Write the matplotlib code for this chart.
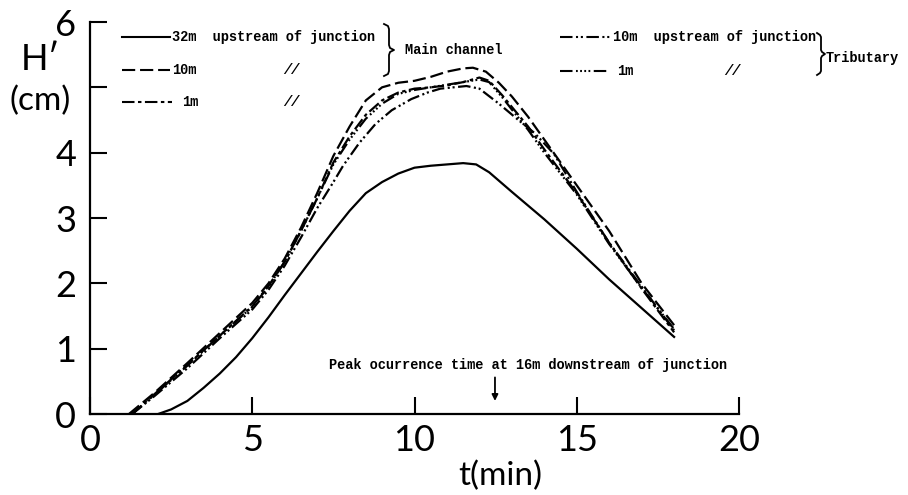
import matplotlib
matplotlib.use("Agg")
import matplotlib.pyplot as plt
from matplotlib.lines import Line2D

plt.rcParams['lines.scale_dashes'] = False

# ---- data ----
t_main32 = [2.1, 2.5, 3.0, 3.5, 4.0, 4.5, 5.0, 5.5, 6.0, 6.5, 7.0, 7.5, 8.0, 8.5, 9.0, 9.5,
            10.0, 10.5, 11.0, 11.5, 11.9, 12.3, 13.0, 14.0, 15.0, 16.0, 17.0, 18.0]
H_main32 = [0.0, 0.07, 0.2, 0.4, 0.62, 0.87, 1.16, 1.48, 1.82, 2.15, 2.48, 2.8, 3.11, 3.38, 3.55, 3.68,
            3.77, 3.80, 3.82, 3.84, 3.82, 3.70, 3.40, 2.98, 2.53, 2.06, 1.62, 1.18]

t_main10 = [1.2, 2.0, 3.0, 4.0, 5.0, 5.5, 6.0, 6.5, 7.0, 7.5, 8.0, 8.5, 9.0, 9.5, 10.0, 10.5,
            11.0, 11.5, 11.8, 12.2, 12.6, 13.0, 13.5, 14.0, 15.0, 16.0, 17.0, 18.0]
H_main10 = [0.0, 0.33, 0.78, 1.24, 1.70, 2.0, 2.38, 2.85, 3.38, 3.95, 4.4, 4.8, 5.0, 5.07, 5.10, 5.16,
            5.24, 5.29, 5.30, 5.24, 5.07, 4.86, 4.55, 4.2, 3.5, 2.8, 2.0, 1.36]

t_main1 = [1.3, 2.0, 3.0, 4.0, 5.0, 5.5, 6.0, 6.5, 7.0, 7.5, 8.0, 8.5, 9.0, 9.5, 10.0, 10.5,
           11.0, 11.5, 12.0, 12.3, 12.7, 13.0, 13.5, 14.0, 15.0, 16.0, 17.0, 18.0]
H_main1 = [0.0, 0.31, 0.75, 1.2, 1.65, 1.96, 2.33, 2.8, 3.3, 3.85, 4.25, 4.58, 4.8, 4.92, 4.98, 5.0,
           5.03, 5.08, 5.15, 5.1, 4.88, 4.7, 4.4, 4.05, 3.38, 2.62, 1.92, 1.25]

t_trib10 = [1.3, 2.0, 3.0, 4.0, 5.0, 5.5, 6.0, 6.5, 7.0, 7.5, 7.8, 8.3, 8.8, 9.3, 9.9, 10.4,
            10.8, 11.6, 12.0, 12.6, 13.2, 13.7, 14.3, 15.0, 16.0, 17.0, 18.0]
H_trib10 = [0.0, 0.28, 0.7, 1.16, 1.6, 1.9, 2.27, 2.7, 3.15, 3.55, 3.8, 4.15, 4.44, 4.65, 4.82, 4.92,
            4.98, 5.02, 4.98, 4.75, 4.5, 4.3, 3.98, 3.4, 2.62, 1.95, 1.28]

t_trib1 = [1.3, 2.0, 3.0, 4.0, 5.0, 5.5, 6.0, 6.5, 7.0, 7.5, 8.0, 8.5, 9.0, 9.5, 10.0, 10.5,
           11.0, 11.5, 12.0, 12.3, 12.7, 13.0, 13.5, 14.0, 15.0, 16.0, 17.0, 18.0]
H_trib1 = [0.0, 0.3, 0.74, 1.2, 1.64, 1.95, 2.33, 2.8, 3.3, 3.82, 4.2, 4.52, 4.75, 4.9, 4.96, 5.0,
           5.04, 5.08, 5.12, 5.08, 4.85, 4.66, 4.35, 4.0, 3.36, 2.6, 1.93, 1.3]

x_ticks = [0, 5, 10, 15, 20]
x_ticklabels = ['0', '5', '10', '15', '20']
y_ticks = [0, 1, 2, 3, 4, 5, 6]
y_ticklabels = ['0', '1', '2', '3', '4', '', '6']
peak_time = 12.48

# ---- styles ----
LW = 1.6
ls_main32 = '-'
ls_main10 = (0, (9.5, 3.5))
ls_main1 = (0, (9, 2.5, 2.5, 2.5))
ls_trib10 = (0, (9, 2.5, 1.5, 2.0, 1.5, 2.5))
ls_trib1 = (0, (9, 2.5, 1.3, 1.7, 1.3, 1.7, 1.3, 1.7, 1.3, 2.5))

W, H = 908, 495
fig = plt.figure(figsize=(W / 100, H / 100), dpi=100)
ax = fig.add_axes([90 / W, 1 - 414 / H, (739 - 90) / W, (414 - 22) / H])

ax.plot(t_main32, H_main32, color='black', lw=LW, linestyle=ls_main32)
ax.plot(t_main10, H_main10, color='black', lw=LW, linestyle=ls_main10)
ax.plot(t_main1, H_main1, color='black', lw=LW, linestyle=ls_main1)
ax.plot(t_trib10, H_trib10, color='black', lw=LW, linestyle=ls_trib10)
ax.plot(t_trib1, H_trib1, color='black', lw=LW, linestyle=ls_trib1)

ax.set_xlim(0, 20)
ax.set_ylim(0, 6)
for s in ['top', 'right']:
    ax.spines[s].set_visible(False)
for s in ['left', 'bottom']:
    ax.spines[s].set_linewidth(1.6)

tickfont = dict(family='Lato', weight='normal', size=26, color='black')
ax.set_xticks(x_ticks)
ax.set_xticklabels(x_ticklabels, fontdict=tickfont)
ax.set_yticks(y_ticks)
ax.set_yticklabels(y_ticklabels, fontdict=tickfont)
ax.tick_params(direction='in', length=12, width=1.5, pad=7)
ax.tick_params(axis='y', pad=10)

# axis labels
lab = dict(family='Lato', weight='normal', color='black')
fig.text(40 / W, 1 - 59 / H, "H\u2032", ha='center', va='center', size=26, **lab)
fig.text(40 / W, 1 - 101 / H, "(cm)", ha='center', va='center', size=24, **lab)
fig.text(500 / W, 1 - 476 / H, "t(min)", ha='center', va='center', size=24, **lab)

# annotation
mono = dict(family='Liberation Mono', weight='bold', size=9.8)
ax.text(13.5, 0.75, "Peak ocurrence time at 16m downstream of junction", ha='center', va='center', **mono)
ax.annotate('', xy=(peak_time, 0.2), xytext=(peak_time, 0.56),
            arrowprops=dict(arrowstyle='-|>', color='black', lw=1.3, mutation_scale=9,
                            shrinkA=0, shrinkB=0))

# ---- legend (drawn manually) ----
def px(x, y):
    return x / W, 1 - y / H

def sample(x0, x1, y, ls):
    (a, b), (c, _) = px(x0, y), px(x1, y)
    fig.add_artist(Line2D([a, c], [b, b], transform=fig.transFigure, color='black', lw=1.5, linestyle=ls))

def brace(x, y0, y1, w=5):
    ym = (y0 + y1) / 2
    xs = [x - w, x - 1, x, x, x + 1, x + w, x + 1, x, x, x - 1, x - w]
    ys = [y0, y0 + 2, y0 + w, ym - w, ym - 2, ym, ym + 2, ym + w, y1 - w, y1 - 2, y1]
    fx = [xx / W for xx in xs]
    fy = [1 - yy / H for yy in ys]
    fig.add_artist(Line2D(fx, fy, transform=fig.transFigure, color='black', lw=1.3))

def label(x, y, s, **kw):
    fig.text(x / W, 1 - y / H, s, ha='left', va='center', **{**mono, **kw})

sample(122, 170, 37, ls_main32)
label(172, 37, "32m  upstream of junction")
sample(122, 170, 70, ls_main10)
label(172, 70, "10m")
label(283, 70, "//", style='italic')
sample(122, 172, 102, ls_main1)
label(182, 102, "1m")
label(283, 102, "//", style='italic')
brace(389, 24, 76)
label(405, 50, "Main channel")

sample(560, 611, 37, ls_trib10)
label(613, 37, "10m  upstream of junction")
sample(560, 608, 71, ls_trib1)
label(617, 71, "1m")
label(724, 71, "//", style='italic')
brace(821, 33, 75, w=4)
label(826, 58, "Tributary")

fig.savefig("out.png", dpi=100)
